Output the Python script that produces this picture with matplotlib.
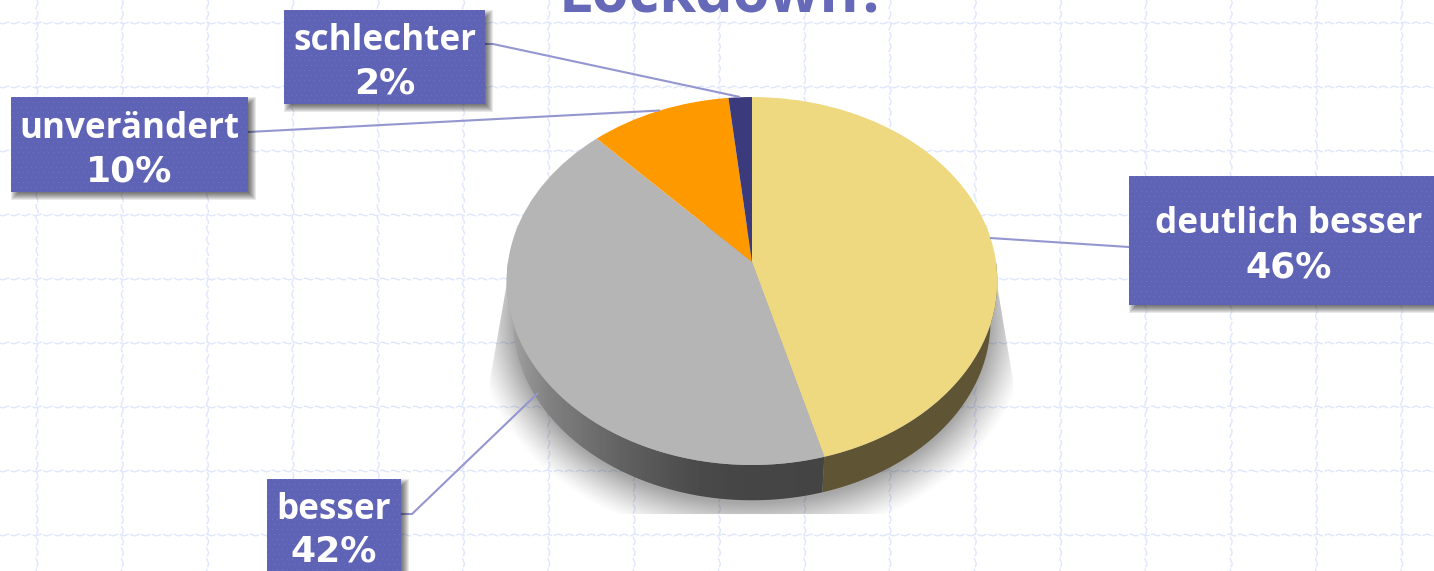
import numpy as np
import matplotlib
matplotlib.use("Agg")
import matplotlib.pyplot as plt
from matplotlib.patches import Rectangle, Polygon
from matplotlib.path import Path
from matplotlib.transforms import Transform

# ---- data -------------------------------------------------------------
categories = ["deutlich besser", "besser", "unverändert", "schlechter"]
shares = [45.7, 42.3, 10.3, 1.7]
slice_colors = ["#eed980", "#b5b5b5", "#ff9900", "#3a3a7c"]
title_tail = "Lockdown?"

W, H = 1434, 571
BOX = "#5f63b5"
DOT = "#6e72c0"
LEADER = "#9496cf"
FONT = "Open Sans"
NUM_FONT = "DejaVu Sans"


class Perspective(Transform):
    """Tilted disc: unit pie coordinates to pixel coordinates."""
    input_dims = output_dims = 2
    is_separable = False
    has_inverse = False

    def __init__(self, cy, scale=1.0, cx=752.0, a=182.0, b=244.0, k=0.1033):
        super().__init__()
        self.cx, self.cy, self.scale, self.a, self.b, self.k = cx, cy, scale, a, b, k

    def transform_non_affine(self, values):
        values = np.asarray(values, float)
        u, v = values[:, 0], values[:, 1]
        den = 1 + self.k * v
        return np.column_stack((self.cx + self.scale * self.b * u / den,
                                self.cy - self.scale * self.a * v / den))

    def transform_path_non_affine(self, path):
        return Path(self.transform_non_affine(path.vertices), path.codes)


top_map = Perspective(262.0)
bottom_map = Perspective(303.0, scale=0.972)

fig = plt.figure(figsize=(W / 100, H / 100), dpi=100, facecolor="white")
ax = fig.add_axes([0, 0, 1, 1])

# ---- the pie itself, drawn by the library and then tilted --------------
wedges, _ = ax.pie(shares, colors=slice_colors, startangle=90, counterclock=False,
                   radius=1.0, wedgeprops=dict(linewidth=0))
ax.set_aspect("auto")
ax.set_xlim(0, W)
ax.set_ylim(H, 0)
ax.set_axis_off()
for w in wedges:
    w.set_transform(top_map + ax.transData)
    w.set_zorder(4)

# ---- background grid of pale wavy lines --------------------------------
grid_color = "#dfe6fd"
ys = np.arange(0, H + 1, 1.0)
xs = np.arange(0, W + 1, 1.0)
for gx in 37 + 85.3 * np.arange(17):
    ax.plot(gx + 0.9 * np.sin(2 * np.pi * ys / 11), ys, color=grid_color, lw=1.0,
            ls=(0, (7, 1.2)), zorder=1)
for gy in 23 + 64 * np.arange(9):
    ax.plot(xs, gy + 0.8 * np.sin(2 * np.pi * xs / 11), color=grid_color, lw=1.0,
            ls=(0, (7, 1.2)), zorder=1)

# ---- soft shadow under the pie ------------------------------------------
yy, xx = np.mgrid[0:H, 0:W] + 0.5
ex, ey, erx, ery = 752.0, 322.0, 238.0, 181.0
r = np.sqrt(((xx - ex) / erx) ** 2 + ((yy - ey) / ery) ** 2)
grad = np.sqrt(((xx - ex) / erx ** 2) ** 2 + ((yy - ey) / ery ** 2) ** 2) / np.maximum(r, 1e-6)
dist = (r - 1) / np.maximum(grad, 1e-9)
alpha = 0.42 * np.clip(1 - dist / 40, 0, 1) ** 1.2
rgba = np.zeros((H, W, 4))
rgba[..., :3] = 0.18
rgba[..., 3] = alpha
im = ax.imshow(rgba, extent=(0, W, H, 0), aspect="auto", zorder=2, interpolation="bilinear")
clip = Polygon([(517, 225), (490, 380), (490, 514), (1013, 514), (1013, 380), (987, 225)],
               closed=True, transform=ax.transData, fill=False, lw=0)
ax.add_patch(clip)
im.set_clip_path(clip)


# ---- pie rim: only the front half of the disc shows one ------------------
def rim(theta1, theta2):
    t = np.radians(np.linspace(theta1, theta2, 200))
    unit = np.column_stack((np.cos(t), np.sin(t)))
    return np.vstack((top_map.transform_non_affine(unit),
                      bottom_map.transform_non_affine(unit)[::-1]))


yellow_rim = Polygon(rim(wedges[0].theta1, min(wedges[0].theta2, 0)), closed=True,
                     fc="#5f5535", ec="none", zorder=3)
ax.add_patch(yellow_rim)

gray_rim = Polygon(rim(max(wedges[1].theta1, -180), wedges[1].theta2), closed=True,
                   fc="none", ec="none", zorder=3)
ax.add_patch(gray_rim)
gx_px = np.arange(500, 840)
gray_level = np.interp(gx_px, [513, 530, 550, 620, 690, 730, 830],
                       [0xa0, 0x90, 0x80, 0x62, 0x4c, 0x46, 0x44]) / 255
grad_img = ax.imshow(gray_level[None, :], cmap="gray", vmin=0, vmax=1,
                     extent=(500, 840, 520, 200), aspect="auto", zorder=3)
grad_img.set_clip_path(gray_rim)


# ---- callout boxes ------------------------------------------------------
def callout(x0, x1, y0, y1, name, pct, cx, base1, base2):
    for s in range(-4, 5):
        ax.add_patch(Rectangle((x0 + 4 - s, y0 + 4 - s), x1 - x0 + 2 * s, y1 - y0 + 2 * s,
                               fc="black", ec="none", alpha=0.085, zorder=6))
    nx, ny = int(x1 - x0), int(y1 - y0)
    tile = np.zeros((ny, nx, 3))
    tile[:] = matplotlib.colors.to_rgb(BOX)
    jj, ii = np.mgrid[0:ny, 0:nx]
    dots = ((ii % 5 == 0) & (jj % 10 == 0)) | ((ii % 5 == 2) & (jj % 10 == 5))
    tile[dots] = matplotlib.colors.to_rgb(DOT)
    ax.imshow(tile, extent=(x0, x1, y1, y0), aspect="auto", zorder=7, interpolation="nearest")
    ax.text(cx, base1, name, color="white", fontsize=25.2, fontweight="bold",
            family=FONT, ha="center", va="baseline", zorder=8)
    ax.text(cx, base2, pct, color="white", fontsize=26, fontweight="bold",
            family=NUM_FONT, ha="center", va="baseline", zorder=8)


pct = [f"{round(v)}%" for v in shares]
callout(1129, 1470, 176, 305, categories[0], pct[0], 1288.5, 233, 277)
callout(267, 401, 479, 620, categories[1], pct[1], 334, 519, 562)
callout(11, 248, 97, 192, categories[2], pct[2], 129.5, 138, 181)
callout(284, 485, 10, 104, categories[3], pct[3], 384.5, 50, 93)

# ---- leader lines -------------------------------------------------------
for path in ([(990, 238), (1129, 247)],
             [(401, 514), (412, 514), (538, 393)],
             [(248, 132), (660, 110.5)],
             [(485, 44), (493, 44), (740, 97)]):
    px, py = zip(*path)
    ax.plot(px, py, color=LEADER, lw=1.5, zorder=5, solid_capstyle="butt")

# ---- the visible tail of the slide title --------------------------------
ax.text(723.5, 11, title_tail, color="#6668b8", fontsize=43, fontweight="bold",
        family=FONT, ha="center", va="baseline", zorder=8)

ax.set_xlim(0, W)
ax.set_ylim(H, 0)
fig.savefig("out.png", dpi=100, facecolor="white")
